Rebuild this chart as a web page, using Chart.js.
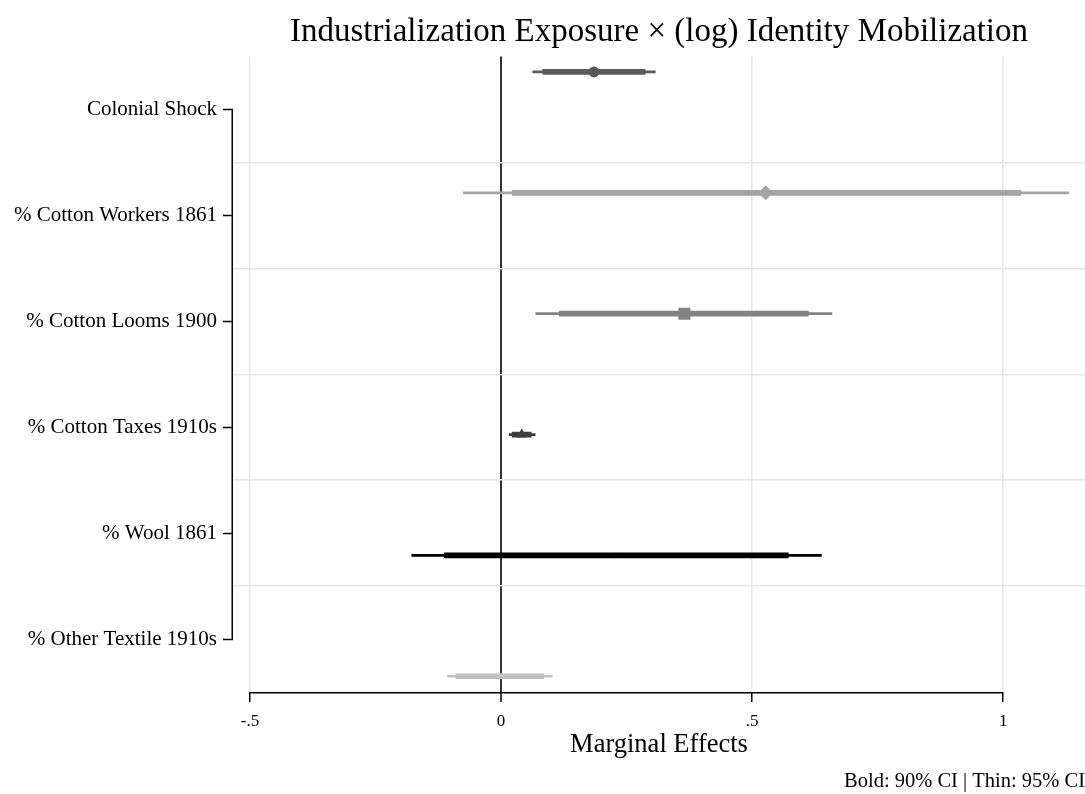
<!DOCTYPE html>
<html>
<head>
<meta charset="utf-8">
<script src="https://cdn.jsdelivr.net/npm/chart.js@4/dist/chart.umd.min.js"></script>
<style>
html,body{margin:0;padding:0;background:#fff;}
#wrap{width:1085px;height:794px;}
</style>
</head>
<body>
<div id="wrap"><canvas id="c" width="1085" height="794"></canvas></div>
<script>
// ---- data ----
const categories = ["Colonial Shock", "% Cotton Workers 1861", "% Cotton Looms 1900", "% Cotton Taxes 1910s", "% Wool 1861", "% Other Textile 1910s"];
const positions = [1, 2, 3, 4, 5, 6];
const estimates = [0.185, 0.527, 0.365, 0.041, 0.229, 0.001];
const ci95Low  = [0.063, -0.075, 0.069, 0.016, -0.178, -0.107];
const ci95High = [0.307, 1.131, 0.659, 0.068, 0.638, 0.102];
const ci90Low  = [0.083, 0.022, 0.116, 0.022, -0.113, -0.090];
const ci90High = [0.287, 1.035, 0.612, 0.060, 0.572, 0.085];
const xTicks = [-0.5, 0, 0.5, 1];
const xTickLabels = ["-.5", "0", ".5", "1"];

// ---- styles ----
const colors = ["#5a5a5a", "#a3a3a3", "#828282", "#3e3e3e", "#000000", "#c2c2c2"];
const markers = ["circle", "rectRot", "rect", "triangle", "crossRot", "cross"];
const markerRadius = [5.5, 7.5, 8.5, 6, 3, 3];
const FONT = "'Liberation Serif', 'DejaVu Serif', serif";

const axisLines = {
  id: 'axisLines',
  afterDatasetsDraw(chart) {
    const ctx = chart.ctx, a = chart.chartArea;
    const yl = chart.scales.yLab, xs = chart.scales.x;
    ctx.save();
    ctx.strokeStyle = '#000';
    ctx.lineWidth = 1.5;
    ctx.beginPath();
    ctx.moveTo(a.left - 0.75, yl.getPixelForTick(0));
    ctx.lineTo(a.left - 0.75, yl.getPixelForTick(categories.length - 1));
    ctx.moveTo(xs.getPixelForValue(xTicks[0]), a.bottom + 0.75);
    ctx.lineTo(xs.getPixelForValue(xTicks[xTicks.length - 1]), a.bottom + 0.75);
    ctx.stroke();
    ctx.restore();
  }
};

const pts = positions.map((p, i) => ({x: estimates[i], y: p}));
const d95 = positions.map((p, i) => ({y: p, x: [ci95Low[i], ci95High[i]]}));
const d90 = positions.map((p, i) => ({y: p, x: [ci90Low[i], ci90High[i]]}));

new Chart(document.getElementById('c'), {
  type: 'scatter',
  data: {
    datasets: [
      {type: 'bar', indexAxis: 'y', data: d95, backgroundColor: colors, barThickness: 2, grouped: false, xAxisID: 'x', yAxisID: 'y', order: 3},
      {type: 'bar', indexAxis: 'y', data: d90, backgroundColor: colors, barThickness: 5, grouped: false, xAxisID: 'x', yAxisID: 'y', order: 2},
      {type: 'scatter', data: pts, pointStyle: markers, pointRadius: markerRadius, pointBackgroundColor: colors, pointBorderColor: colors, pointBorderWidth: [0, 0, 0, 0, 2, 2], xAxisID: 'x', yAxisID: 'y', order: 1}
    ]
  },
  options: {
    responsive: false,
    animation: false,
    events: [],
    layout: {autoPadding: false, padding: {left: 0, right: 0, top: 0, bottom: 0}},
    plugins: {
      legend: {display: false},
      tooltip: {enabled: false},
      title: {
        display: true,
        fullSize: false,
        text: 'Industrialization Exposure × (log) Identity Mobilization',
        color: '#000',
        font: {family: FONT, size: 33, weight: 'normal'},
        padding: {top: 13, bottom: 4},
        align: 'center'
      },
      subtitle: {
        display: true,
        position: 'bottom',
        align: 'end',
        text: 'Bold: 90% CI | Thin: 95% CI',
        color: '#000',
        font: {family: FONT, size: 20.5, weight: 'normal'},
        padding: {top: 0, bottom: 0}
      }
    },
    scales: {
      x: {
        type: 'linear',
        position: 'bottom',
        min: -0.534,
        max: 1.163,
        offset: false,
        afterBuildTicks(s) { s.ticks = xTicks.map(v => ({value: v})); },
        afterFit(s) { s.height = 77.4; s.paddingLeft = 0; s.paddingRight = 0; },
        ticks: {
          callback: (v) => xTickLabels[xTicks.indexOf(v)],
          color: '#000',
          font: {family: FONT, size: 17},
          padding: 9,
          maxRotation: 0
        },
        grid: {
          color: (c) => (c.tick && c.tick.value === 0) ? '#333333' : '#e6e6e6',
          lineWidth: (c) => (c.tick && c.tick.value === 0) ? 2 : 1.5,
          tickColor: '#000',
          tickLength: 10,
          tickWidth: 1.5
        },
        border: {display: false},
        title: {
          display: true,
          text: 'Marginal Effects',
          color: '#000',
          font: {family: FONT, size: 26.5},
          padding: {top: 0, bottom: 8.5}
        }
      },
      y: {
        type: 'linear',
        display: false,
        reverse: true,
        offset: false,
        grid: {offset: false},
        min: 0.873,
        max: 6.13
      },
      yLab: {
        type: 'category',
        position: 'left',
        labels: categories,
        offset: true,
        afterFit(s) { s.width = 233; },
        ticks: {color: '#000', font: {family: FONT, size: 21}, padding: 6},
        grid: {drawOnChartArea: false, drawTicks: true, tickLength: 10, tickColor: '#000', tickWidth: 1.5, color: '#000'},
        border: {display: false}
      },
      yGrid: {
        type: 'linear',
        position: 'right',
        min: 0,
        max: 6,
        afterBuildTicks(s) { s.ticks = [1, 2, 3, 4, 5].map(v => ({value: v})); },
        afterFit(s) { s.width = 0; s.paddingTop = 0; s.paddingBottom = 0; },
        ticks: {display: false},
        grid: {color: '#e6e6e6', lineWidth: 1.5, drawTicks: false},
        border: {display: false}
      }
    }
  },
  plugins: [axisLines]
});
</script>
</body>
</html>
